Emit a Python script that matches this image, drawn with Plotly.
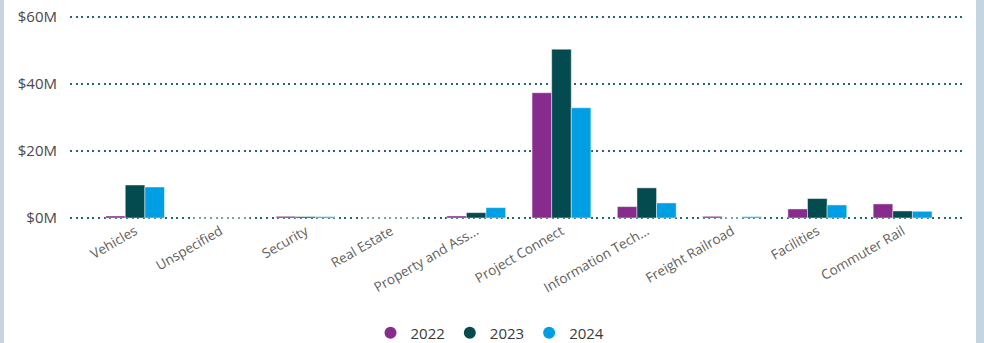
import plotly.graph_objects as go

categories = ["Vehicles", "Unspecified", "Security", "Real Estate", "Property and Ass...",
              "Project Connect", "Information Tech...", "Freight Railroad", "Facilities", "Commuter Rail"]
years = ["2022", "2023", "2024"]
v2022 = [0.6, 0, 0.5, 0, 0.6, 37.4, 3.4, 0.5, 2.7, 4.2]
v2023 = [9.85, 0, 0.4, 0, 1.6, 50.4, 9.0, 0, 5.8, 2.1]
v2024 = [9.25, 0, 0.4, 0, 3.1, 32.9, 4.5, 0.4, 3.9, 2.0]
colors = ["#872B8C", "#044B50", "#009FE3"]
tick_vals = [0, 20, 40, 60]
tick_text = ["$0M", "$20M", "$40M", "$60M"]

fig = go.Figure()
for name, vals, col in zip(years, [v2022, v2023, v2024], colors):
    fig.add_trace(go.Bar(
        x=categories, y=vals, name=name, showlegend=False,
        marker=dict(color=col, line=dict(color="rgba(255,255,255,0.45)", width=1)),
    ))
# legend entries with circle markers
for name, col in zip(years, colors):
    fig.add_trace(go.Scatter(
        x=[None], y=[None], mode="markers", name=name,
        marker=dict(color=col, size=13, symbol="circle"),
    ))

W, H = 984, 343
L, R, T, B = 70, 20, 15, 123
pw = W - L - R
ph = H - T - B

fig.update_layout(
    width=W, height=H,
    margin=dict(l=L, r=R, t=T, b=B, autoexpand=False),
    paper_bgcolor="white", plot_bgcolor="white",
    barmode="group", bargap=0.31, bargroupgap=0,
    font=dict(family="Open Sans, DejaVu Sans, sans-serif", color="#605E5C"),
    showlegend=True,
    legend=dict(orientation="h", x=490 / W, xref="container", xanchor="center",
                y=(H - 333) / H, yref="container", yanchor="middle",
                font=dict(size=15, color="#3A3A3A"),
                itemwidth=30, tracegroupgap=0, itemclick=False,
                itemsizing="constant"),
    xaxis=dict(
        range=[-0.763, 9.72], tickangle=-30, showgrid=False, zeroline=False,
        showline=False, ticks="", tickfont=dict(size=13.5, color="#605E5C"),
        automargin=False,
    ),
    yaxis=dict(
        range=[-0.6, 60.6], tickvals=tick_vals, ticktext=tick_text,
        showgrid=True, gridcolor="#236670", gridwidth=2, griddash="2px,3.6px",
        zeroline=False, showline=False, ticks="", ticklabelstandoff=12,
        tickfont=dict(size=15, color="#4A4A4A"), automargin=False,
    ),
    shapes=[
        dict(type="rect", xref="paper", yref="paper",
             x0=(0 - L) / pw, x1=(4 - L) / pw, y0=-2, y1=2,
             fillcolor="#C6D4DF", line=dict(width=0), layer="above"),
        dict(type="rect", xref="paper", yref="paper",
             x0=(976 - L) / pw, x1=(986 - L) / pw, y0=-2, y1=2,
             fillcolor="#C4D5E2", line=dict(width=0), layer="above"),
    ],
)

fig.write_html("out.html", config={"displayModeBar": False},
               post_script="document.body.style.margin='0';")
